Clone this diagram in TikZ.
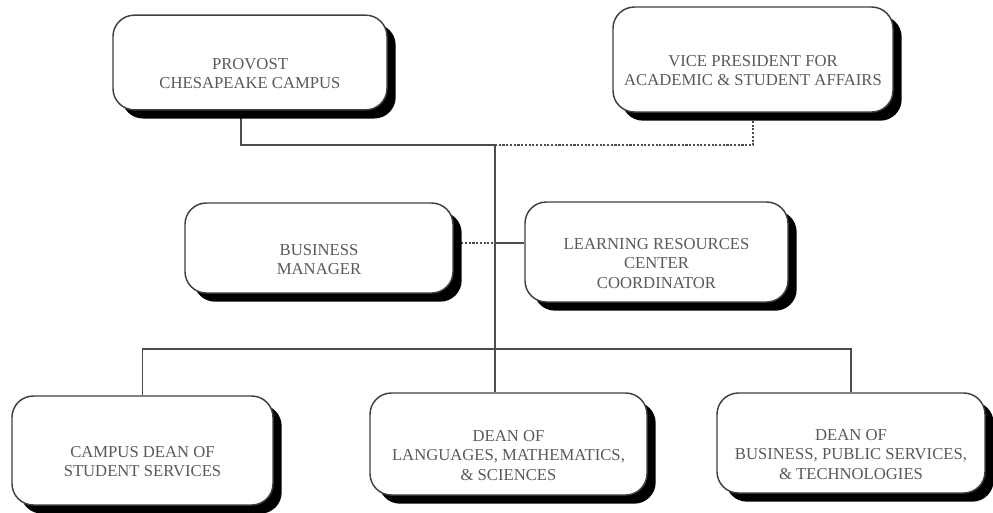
\documentclass[tikz,border=0pt]{standalone}
\usepackage{fontspec}
\setmainfont{Liberation Serif}
\usetikzlibrary{shadows,backgrounds}
\begin{document}
\begin{tikzpicture}[x=0.75pt, y=-0.75pt,
    box/.style={draw=black!75, line width=1.1pt, fill=white, rounded corners=16pt,
      drop shadow={shadow xshift=6.5pt, shadow yshift=-6.5pt, fill=black, opacity=1}},
    boxtext/.style={font=\fontsize{12.5}{14.5}\selectfont, text=black!65, align=center, yshift=-8.5pt},
    link/.style={draw=black!70, line width=1pt},
    dotlink/.style={link, dash pattern=on 1.6pt off 1.2pt}]
  \useasboundingbox (0,0) rectangle (993,512);
  % top row
  \node[box, minimum width=205.5pt, minimum height=71pt,
    label={[boxtext]center:{PROVOST\\CHESAPEAKE CAMPUS}}] (prov) at (250,62.5) {};
  \node[box, minimum width=210pt, minimum height=78.75pt,
    label={[boxtext]center:{VICE PRESIDENT FOR\\ACADEMIC \& STUDENT AFFAIRS}}] (vp) at (753,59.5) {};
  % middle row
  \node[box, minimum width=201pt, minimum height=67.5pt,
    label={[boxtext]center:{BUSINESS\\MANAGER}}] (bm) at (319,248) {};
  \node[box, minimum width=197.25pt, minimum height=75pt,
    label={[boxtext]center:{LEARNING RESOURCES\\CENTER\\COORDINATOR}}] (lrc) at (656.5,252) {};
  % bottom row
  \node[box, minimum width=195.75pt, minimum height=81.75pt,
    label={[boxtext]center:{CAMPUS DEAN OF\\STUDENT SERVICES}}] (csd) at (142.5,450.5) {};
  \node[box, minimum width=207.75pt, minimum height=76.5pt,
    label={[boxtext]center:{DEAN OF\\LANGUAGES, MATHEMATICS,\\\& SCIENCES}}] (dlms) at (508.5,444) {};
  \node[box, minimum width=201pt, minimum height=75pt,
    label={[boxtext]center:{DEAN OF\\BUSINESS, PUBLIC SERVICES,\\\& TECHNOLOGIES}}] (dbps) at (851,443) {};
  \coordinate (top) at (495,145);
  \coordinate (mid) at (495,243);
  \coordinate (low) at (495,349);
  \begin{scope}[on background layer]
    \draw[link] ([xshift=-6.75pt]prov.south) |- (top);
    \draw[dotlink] (top) -| (vp.south);
    \draw[link] (top) -- (dlms.north -| top);
    \draw[dotlink] (bm.east |- mid) -- (mid);
    \draw[link] (mid) -- (lrc.west |- mid);
    \draw[link] (csd.north) |- (low) -| (dbps.north);
  \end{scope}
\end{tikzpicture}
\end{document}
